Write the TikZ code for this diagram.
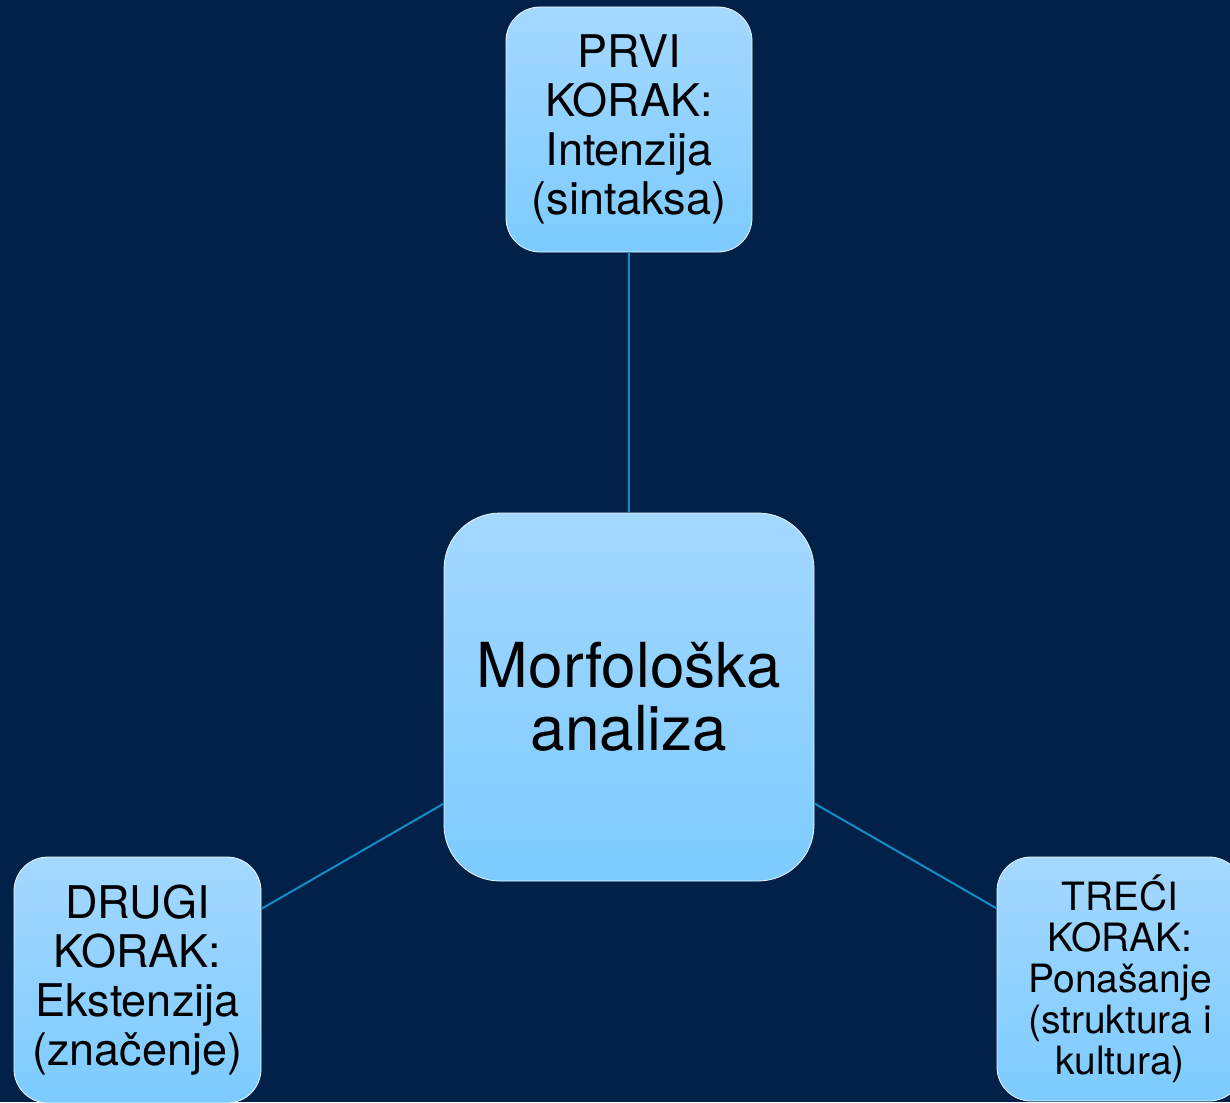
\documentclass[tikz,border=0pt]{standalone}
\usepackage{fontspec}
\setmainfont{TeX Gyre Heros}
\definecolor{pozadina}{RGB}{1,33,73}
\definecolor{linija}{RGB}{21,139,198}
\definecolor{gore}{RGB}{164,216,255}
\definecolor{dolje}{RGB}{124,203,255}
\begin{document}
\begin{tikzpicture}[x=0.5pt,y=-0.5pt,
  kutija/.style={draw=white!85!gore, line width=0.4pt, top color=gore, bottom color=dolje,
    rounded corners=17pt, inner sep=0pt, align=center, text=black},
  veza/.style={draw=linija, line width=1pt}]

\fill[pozadina] (0,0) rectangle (1230,1102);
\useasboundingbox (0,0) rectangle (1230,1102);

\node[kutija, minimum width=185pt, minimum height=184pt, rounded corners=28pt,
  font=\fontsize{31}{31.5}\selectfont] (m) at (629,697) {Morfološka\\analiza};

\node[kutija, minimum width=123pt, minimum height=122.5pt,
  font=\fontsize{22.5}{24.5}\selectfont] (k1) at (629,129.5) {PRVI\\KORAK:\\Intenzija\\(sintaksa)};

\node[kutija, minimum width=123.5pt, minimum height=123pt,
  font=\fontsize{22.5}{24.5}\selectfont] (k2) at (137.5,980) {DRUGI\\KORAK:\\Ekstenzija\\(značenje)};

\node[kutija, minimum width=123pt, minimum height=122pt,
  font=\fontsize{19.5}{20.5}\selectfont] (k3) at (1120,979) {TREĆI\\KORAK:\\Ponašanje\\(struktura i\\kultura)};

\draw[veza] (k1) -- (m);
\draw[veza] (m) -- (k2);
\draw[veza] (m) -- (k3);

\end{tikzpicture}
\end{document}
